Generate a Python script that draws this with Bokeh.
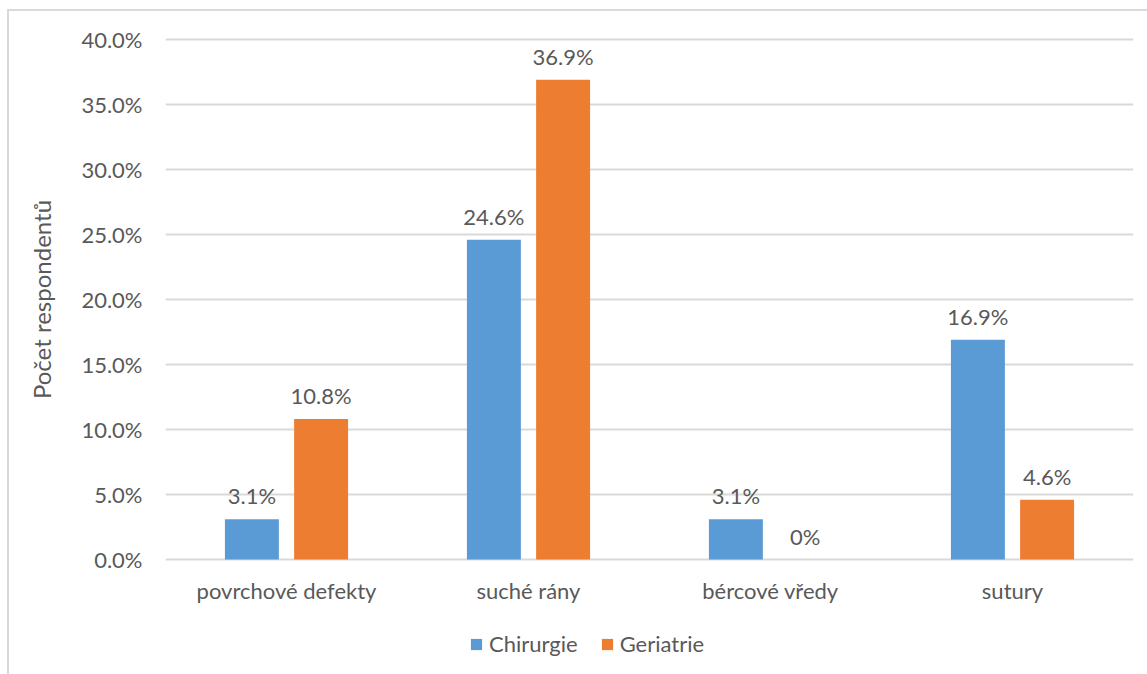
from bokeh.plotting import figure
from bokeh.layouts import column
from bokeh.models import (ColumnDataSource, FactorRange, Range1d, FixedTicker,
                          Legend, LegendItem)
from bokeh.transform import dodge
from bokeh.core.properties import value
from bokeh.embed import file_html
from bokeh.resources import INLINE

# Data
categories = ["povrchové defekty", "suché rány", "bércové vředy", "sutury"]
chirurgie = [3.1, 24.6, 3.1, 16.9]
geriatrie = [10.8, 36.9, 0.0, 4.6]
series_names = ["Chirurgie", "Geriatrie"]
y_ticks = [0, 5, 10, 15, 20, 25, 30, 35, 40]
y_tick_labels = ["0.0%", "5.0%", "10.0%", "15.0%", "20.0%", "25.0%", "30.0%", "35.0%", "40.0%"]
y_title = "Počet respondentů"


def pct(v):
    return "0%" if v == 0 else f"{v:.1f}%"


FONT = "Lato"
FS = "22px"
TEXT = "#595959"
GRID = "#d9d9d9"
BLUE = "#5B9BD5"
ORANGE = "#ED7D31"
COLORS = [BLUE, ORANGE]

src = ColumnDataSource(data=dict(
    cat=categories,
    chir=chirurgie,
    ger=geriatrie,
    chir_lbl=[pct(v) for v in chirurgie],
    ger_lbl=[pct(v) for v in geriatrie],
))

# main chart
p = figure(
    x_range=FactorRange(*categories, range_padding=0.0),
    y_range=Range1d(-0.46, 40.46),
    width=1140, height=604,
    output_backend="svg", toolbar_location=None,
    min_border_left=156, min_border_right=16,
    min_border_top=22, min_border_bottom=50,
)
p.outline_line_color = None
p.background_fill_color = "white"
p.border_fill_color = "white"

off = 0.143
bw = 0.223
p.vbar(x=dodge("cat", -off, range=p.x_range), top="chir", width=bw,
       source=src, fill_color=BLUE, line_color=None)
p.vbar(x=dodge("cat", off, range=p.x_range), top="ger", width=bw,
       source=src, fill_color=ORANGE, line_color=None)

# value labels above bars
for col, lbl, dx in (("chir", "chir_lbl", -off), ("ger", "ger_lbl", off)):
    p.text(x=dodge("cat", dx, range=p.x_range), y=col, text=lbl, source=src,
           text_align="center", text_baseline="bottom", y_offset=-10,
           text_font=value(FONT), text_font_size=FS, text_color=TEXT)

# axes
p.yaxis.ticker = FixedTicker(ticks=y_ticks)
p.yaxis.major_label_overrides = {t: l for t, l in zip(y_ticks, y_tick_labels)}
p.yaxis.axis_line_color = None
p.yaxis.major_tick_line_color = None
p.yaxis.minor_tick_line_color = None
p.yaxis.major_label_standoff = 17
p.yaxis.major_label_text_font = FONT
p.yaxis.major_label_text_font_size = FS
p.yaxis.major_label_text_color = TEXT
p.yaxis.axis_label = y_title
p.yaxis.axis_label_text_font = FONT
p.yaxis.axis_label_text_font_size = "24px"
p.yaxis.axis_label_text_font_style = "normal"
p.yaxis.axis_label_text_color = TEXT
p.yaxis.axis_label_standoff = 22

p.xaxis.axis_line_color = None
p.xaxis.major_tick_line_color = None
p.xaxis.minor_tick_line_color = None
p.xaxis.major_label_standoff = 5
p.xaxis.major_label_text_font = FONT
p.xaxis.major_label_text_font_size = FS
p.xaxis.major_label_text_color = TEXT

p.xgrid.grid_line_color = None
p.ygrid.grid_line_color = GRID
p.ygrid.grid_line_width = 2

# legend strip under the chart; zero-size proxy bars carry the swatch colours
lg = figure(width=1140, height=59, output_backend="svg", toolbar_location=None,
            min_border=0, x_range=Range1d(0, 1), y_range=Range1d(0, 1))
lg.axis.visible = False
lg.grid.grid_line_color = None
lg.outline_line_color = None
lg.border_fill_color = "white"
items = []
for name, color in zip(series_names, COLORS):
    r = lg.vbar(x=[0], top=[0], width=0, fill_color=color, line_color=None)
    items.append(LegendItem(label=name, renderers=[r]))
legend = Legend(
    items=items, orientation="horizontal", location=(304, 17),
    label_text_font=FONT, label_text_font_size=FS, label_text_color=TEXT,
    glyph_width=14, glyph_height=14, label_standoff=6, spacing=22,
    border_line_color=None, background_fill_alpha=0, padding=0, margin=0,
)
lg.add_layout(legend, "center")

page = column(p, lg, spacing=0)
page.margin = (9, 0, 0, 7)
page.styles = {"border-left": "2px solid #d9d9d9", "border-top": "2px solid #d9d9d9"}

open("out.html", "w").write(file_html(page, INLINE))
